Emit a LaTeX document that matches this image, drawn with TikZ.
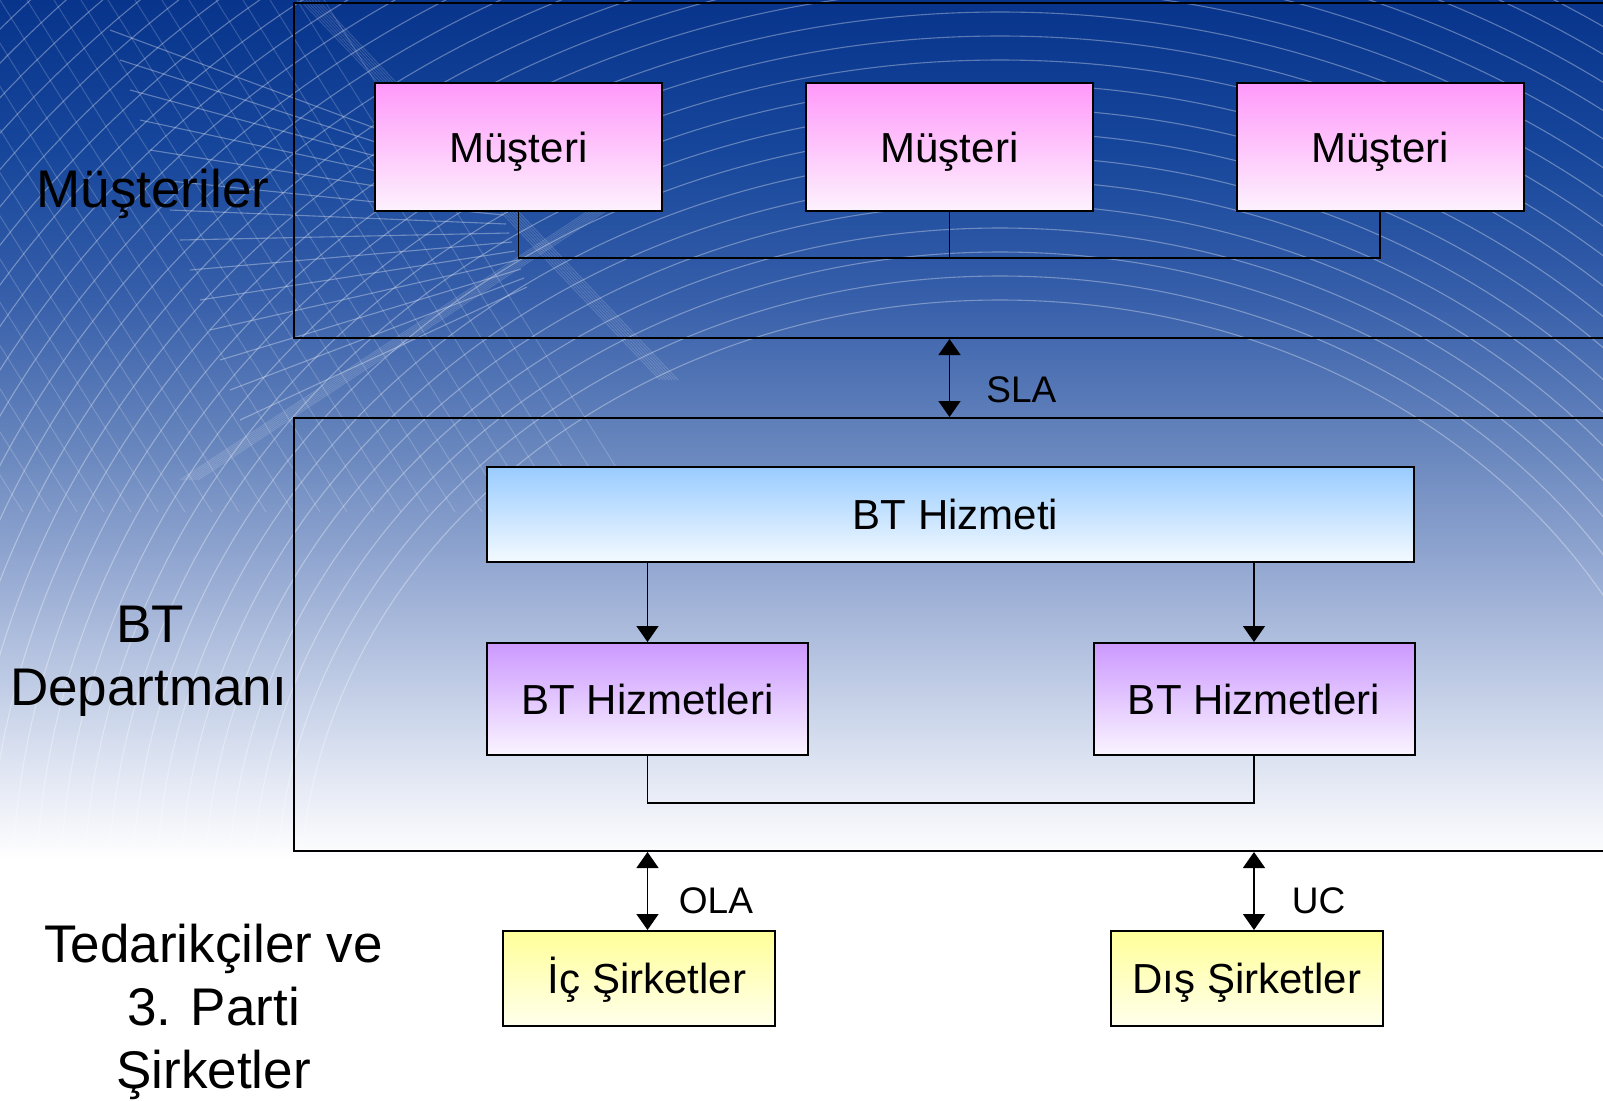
\documentclass[tikz,border=0pt]{standalone}
\usepackage{fontspec}
\setmainfont{Liberation Sans}
\usetikzlibrary{arrows.meta,calc}

% sky backdrop colours, top to bottom
\definecolor{bg0}{RGB}{8,52,140}
\definecolor{bg1}{RGB}{22,70,155}
\definecolor{bg2}{RGB}{55,95,170}
\definecolor{bg3}{RGB}{105,135,190}
\definecolor{bg4}{RGB}{160,178,215}
\definecolor{bg5}{RGB}{205,215,235}
\definecolor{bg6}{RGB}{235,238,247}
% box fills
\definecolor{custTop}{RGB}{255,153,250}
\definecolor{custBot}{RGB}{253,242,253}
\definecolor{svcTop}{RGB}{153,204,255}
\definecolor{svcBot}{RGB}{244,250,255}
\definecolor{itTop}{RGB}{204,153,255}
\definecolor{itBot}{RGB}{250,244,255}
\definecolor{supTop}{RGB}{255,255,153}
\definecolor{supBot}{RGB}{255,255,236}

\pgfdeclareverticalshading{skyfade}{100bp}{color(0bp)=(white); color(35.9bp)=(white);
  color(38.6bp)=(bg6); color(42.3bp)=(bg5); color(47.7bp)=(bg4); color(54.5bp)=(bg3);
  color(61.4bp)=(bg2); color(68.2bp)=(bg1); color(75bp)=(bg0); color(100bp)=(bg0)}

\tikzset{headtip/.tip={Triangle[length=8pt,width=11pt]}}

\begin{document}
\begin{tikzpicture}[x=0.5pt,y=-0.5pt,
  area/.style={draw=black,line width=1pt,inner sep=0pt},
  box/.style={draw=black,line width=1pt,inner sep=0pt,shade,
    font=\fontsize{21pt}{25pt}\selectfont,text height=15pt,text depth=0pt},
  custbox/.style={box,top color=custTop,bottom color=custBot,
    minimum width=143.5pt,minimum height=64pt},
  svcbox/.style={box,top color=svcTop,bottom color=svcBot},
  itbox/.style={box,top color=itTop,bottom color=itBot,
    minimum width=160.5pt,minimum height=56pt},
  supbox/.style={box,top color=supTop,bottom color=supBot,
    minimum width=136pt,minimum height=47.5pt},
  sidelabel/.style={anchor=base,inner sep=0pt,font=\fontsize{26.5pt}{31.5pt}\selectfont},
  agreement/.style={anchor=base west,inner sep=0pt,font=\fontsize{18.5pt}{22pt}\selectfont},
  link/.style={draw=black,line width=0.75pt},
  twoway/.style={link,headtip-headtip},
  oneway/.style={link,-headtip}]

\useasboundingbox (0,0) rectangle (1603,1100);

% backdrop
\shade[shading=skyfade] (0,0) rectangle (1603,1100);

% white wire lines over the sky
\begin{scope}
  \clip (0,0) rectangle (1603,880);
  \begin{scope}[color=white,line width=0.55pt,opacity=0.33]
    % nested domes
    \foreach \k in {0,...,30}
      \draw (1000,900) ellipse[x radius={700+24*\k}, y radius={600+24*\k}];
    % fan on the left
    \foreach \i in {0,...,13}
      \draw ({110+10*\i},{30+30*\i}) -- ($({110+10*\i},{30+30*\i})!0.7!(650,230)$);
  \end{scope}
  \begin{scope}[color=white,line width=0.5pt,opacity=0.18]
    \clip (0,0) rectangle (620,880);
    \foreach \i in {-16,...,12}
      \draw ({27*\i},0) -- ++(320,512);
  \end{scope}
  \begin{scope}[color=white,line width=0.5pt,opacity=0.16]
    \foreach \j in {0,...,6}
      \draw ({300+3*\j},0) -- ({660+3*\j},380);
    \foreach \j in {0,...,6}
      \draw ({620+3*\j},190) -- ({180+3*\j},480);
  \end{scope}
\end{scope}

% layer frames (open to the right)
\node[area,minimum width=673pt,minimum height=167.5pt] (custArea) at (967,170.5) {};
\node[area,minimum width=673pt,minimum height=216.5pt] (deptArea) at (967,634.5) {};

% side captions
\node[sidelabel] (capCust) at (153,207) {Müşteriler};
\node[sidelabel] (capDeptA) at (150,642) {BT};
\node[sidelabel] (capDeptB) at (148.5,705) {Departmanı};
\node[sidelabel] (capSupA) at (213.5,962) {Tedarikçiler ve};
\node[sidelabel] (capSupB) at (213.5,1025) {3. Parti};
\node[sidelabel] (capSupC) at (213.5,1088) {Şirketler};

% customers
\node[custbox] (cust1) at (518.5,147) {Müşteri};
\node[custbox] (cust2) at (949.5,147) {Müşteri};
\node[custbox] (cust3) at (1380,147) {Müşteri};
\coordinate (custBus) at (949.5,258);
\draw[link] (cust1.south) |- (custBus) -| (cust3.south);
\draw[link] (cust2.south) -- (custBus);

% SLA between customers and IT
\draw[twoway] (custArea.south -| cust2) -- (deptArea.north -| cust2);
\node[agreement] (sla) at (986,402) {SLA};

% IT department
\node[svcbox,minimum width=463.5pt,minimum height=47.5pt] (svc) at (950.5,514.5) {\hspace*{5pt}BT Hizmeti};
\node[itbox] (svcL) at (647.5,699) {BT Hizmetleri};
\node[itbox] (svcR) at (1254,699) {BT Hizmetleri};
\draw[oneway] (svc.south -| svcL) -- (svcL.north);
\draw[oneway] (svc.south -| svcR) -- (svcR.north);
\coordinate (svcBus) at (950,803);
\draw[link] (svcL.south) |- (svcBus) -| (svcR.south);

% suppliers
\node[supbox] (intl) at (639,978.5) {\hspace*{8pt}İç Şirketler};
\node[supbox] (extl) at (1247,978.5) {Dış Şirketler};
\draw[twoway] (deptArea.south -| svcL) -- (intl.north -| svcL);
\draw[twoway] (deptArea.south -| svcR) -- (extl.north -| svcR);
\node[agreement] (ola) at (678.5,913) {OLA};
\node[agreement] (uc) at (1291.5,913) {UC};

\end{tikzpicture}
\end{document}
